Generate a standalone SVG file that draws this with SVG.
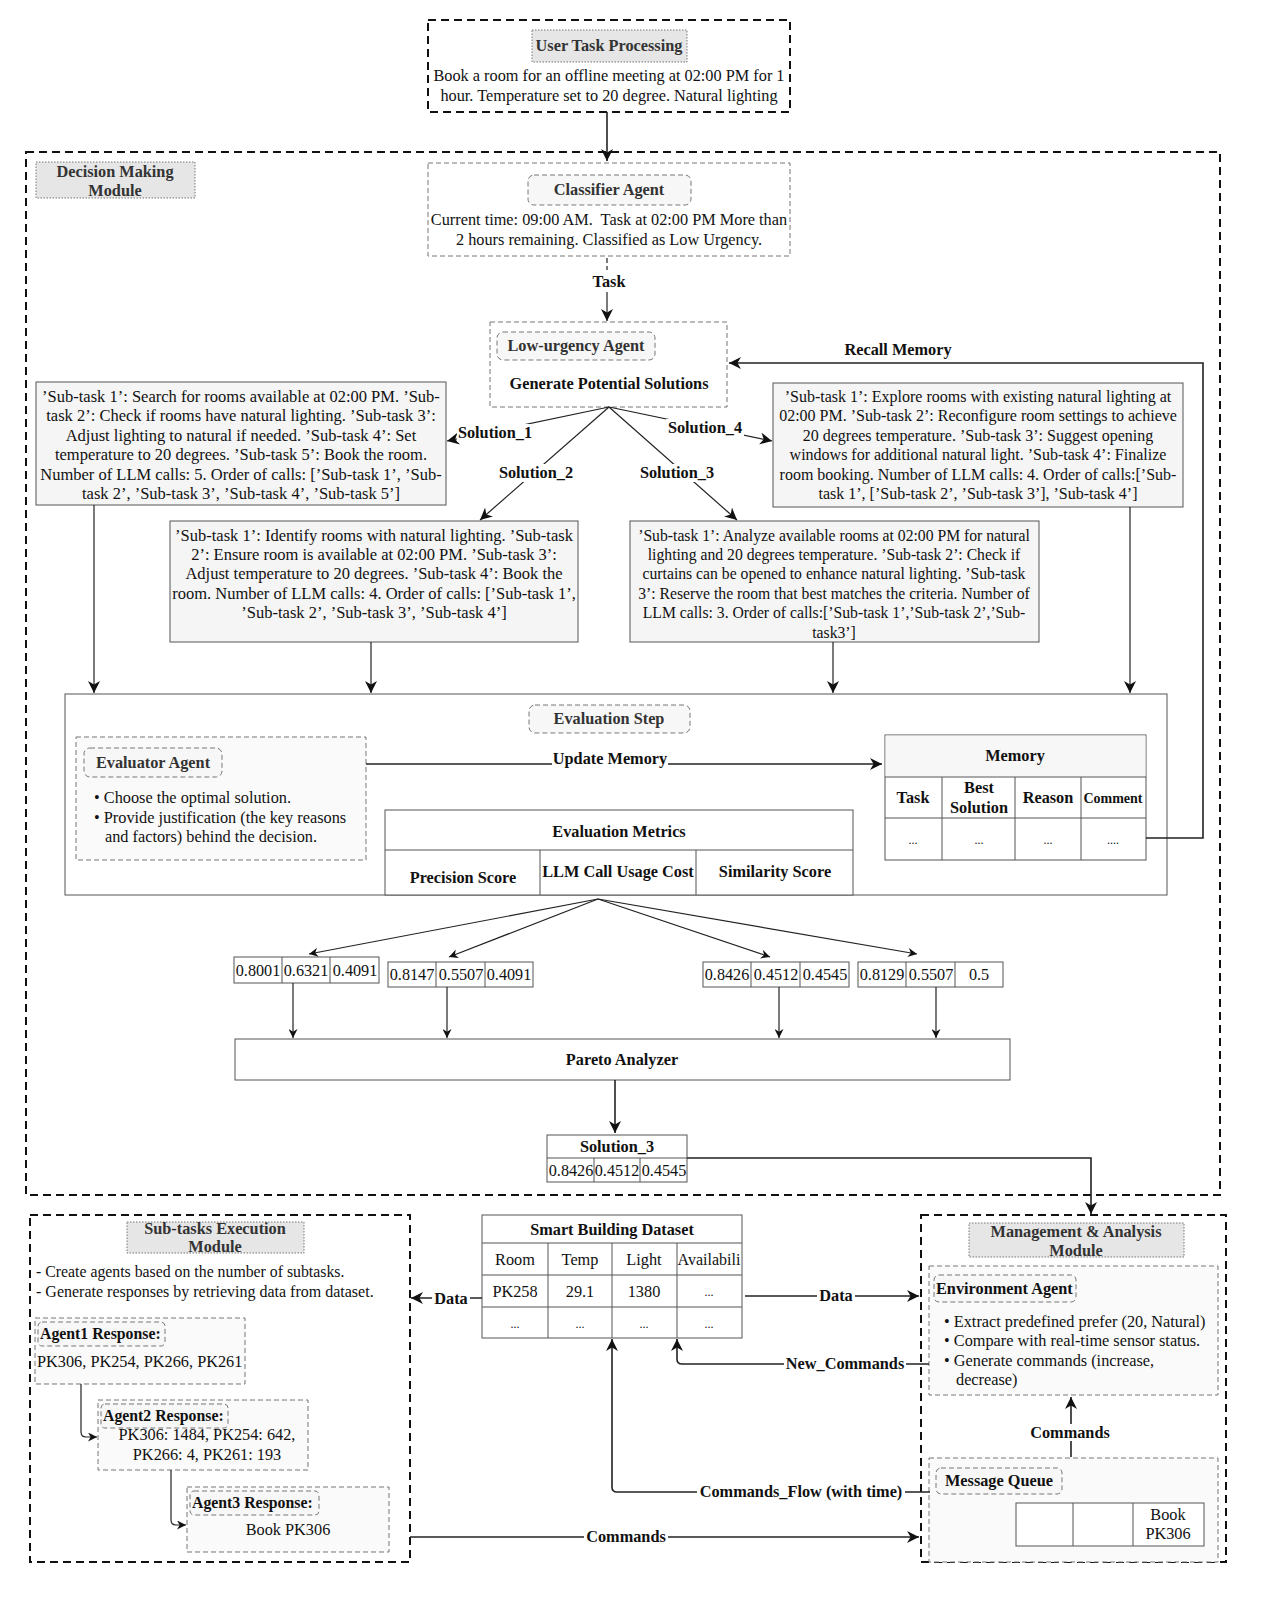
<svg xmlns="http://www.w3.org/2000/svg" width="1271" height="1611" viewBox="0 0 1271 1611">
<defs>
<marker id="ah" viewBox="0 0 10 10" refX="10" refY="5" markerWidth="12" markerHeight="12" markerUnits="userSpaceOnUse" orient="auto">
<path d="M0,0 L10,5 L0,10 L3,5 z" fill="#111"/>
</marker>
<marker id="ahs" viewBox="0 0 10 10" refX="10" refY="5" markerWidth="9" markerHeight="9" markerUnits="userSpaceOnUse" orient="auto">
<path d="M0,0 L10,5 L0,10 L3,5 z" fill="#111"/>
</marker>
<style>
text{font-family:"Liberation Serif","Times New Roman",serif;fill:#111;font-size:16.3px}
.c{text-anchor:middle}
.b{font-weight:bold}
.t{font-weight:bold;fill:#333;text-anchor:middle;font-size:16.3px}
.s1{font-size:16.5px}
.s3{font-size:15.7px}
.s4{font-size:16px}
.num{font-size:16.2px}
.mod{fill:none;stroke:#111;stroke-width:2;stroke-dasharray:8,5}
.thin{fill:#fff;stroke:#777;stroke-width:1;stroke-dasharray:5,3}
.panel{fill:#fafafa;stroke:#777;stroke-width:1;stroke-dasharray:5,3}
.lbl{fill:#f7f7f7;stroke:#777;stroke-width:1;stroke-dasharray:5,3}
.gt{fill:#e6e6e6;stroke:#777;stroke-width:1;stroke-dasharray:1.5,1.5}
.sol{fill:#f5f5f5;stroke:#555;stroke-width:1}
.box{fill:#fff;stroke:#555;stroke-width:1}
.cell{fill:none;stroke:#555;stroke-width:1}
.ln{fill:none;stroke:#222;stroke-width:1.6}
.lnt{fill:none;stroke:#222;stroke-width:1.2}
.bg{fill:#fff}
</style>
</defs>
<rect width="1271" height="1611" fill="#fff"/>

<g id="user-task">
<rect class="mod" x="428" y="20" width="362" height="92"/>
<rect class="gt" x="532" y="30" width="155" height="32"/>
<text class="t" x="609" y="51">User Task Processing</text>
<text class="c" x="609" y="81">Book a room for an offline meeting at 02:00 PM for 1</text>
<text class="c" x="609" y="101">hour. Temperature set to 20 degree. Natural lighting</text>
</g>

<g id="decision-module">
<rect class="mod" x="26" y="152" width="1194" height="1043"/>
<rect class="gt" x="36" y="162" width="159" height="36"/>
<text class="t" x="115" y="177">Decision Making</text>
<text class="t" x="115" y="196">Module</text>
</g>

<g id="classifier-agent">
<rect class="thin" x="428" y="163" width="362" height="93"/>
<rect class="lbl" x="528" y="175" width="163" height="30" rx="6"/>
<text class="t" x="609" y="195">Classifier Agent</text>
<text class="c" x="609" y="225">Current time: 09:00 AM.&#160; Task at 02:00 PM More than</text>
<text class="c" x="609" y="245">2 hours remaining. Classified as Low Urgency.</text>
</g>

<g id="low-urgency-agent">
<rect class="thin" x="490" y="322" width="237" height="85"/>
<rect class="lbl" x="497" y="332" width="158" height="28" rx="6"/>
<text class="t" x="576" y="351">Low-urgency Agent</text>
<text class="c b" x="609" y="389">Generate Potential Solutions</text>
</g>

<g id="solution-1">
<rect class="sol" x="36" y="382" width="410" height="123"/>
<text class="c s1" x="241" y="402">’Sub-task 1’: Search for rooms available at 02:00 PM. ’Sub-</text>
<text class="c s1" x="241" y="421">task 2’: Check if rooms have natural lighting. ’Sub-task 3’:</text>
<text class="c s1" x="241" y="441">Adjust lighting to natural if needed. ’Sub-task 4’: Set</text>
<text class="c s1" x="241" y="460">temperature to 20 degrees. ’Sub-task 5’: Book the room.</text>
<text class="c s1" x="241" y="480">Number of LLM calls: 5. Order of calls: [’Sub-task 1’, ’Sub-</text>
<text class="c s1" x="241" y="499">task 2’, ’Sub-task 3’, ’Sub-task 4’, ’Sub-task 5’]</text>
</g>

<g id="solution-4">
<rect class="sol" x="773" y="383" width="410" height="124"/>
<text class="c s4" x="978" y="402">’Sub-task 1’: Explore rooms with existing natural lighting at</text>
<text class="c s4" x="978" y="421">02:00 PM. ’Sub-task 2’: Reconfigure room settings to achieve</text>
<text class="c s4" x="978" y="441">20 degrees temperature. ’Sub-task 3’: Suggest opening</text>
<text class="c s4" x="978" y="460">windows for additional natural light. ’Sub-task 4’: Finalize</text>
<text class="c s4" x="978" y="480">room booking. Number of LLM calls: 4. Order of calls:[’Sub-</text>
<text class="c s4" x="978" y="499">task 1’, [’Sub-task 2’, ’Sub-task 3’], ’Sub-task 4’]</text>
</g>

<g id="solution-2">
<rect class="sol" x="170" y="521" width="408" height="121"/>
<text class="c s1" x="374" y="541">’Sub-task 1’: Identify rooms with natural lighting. ’Sub-task</text>
<text class="c s1" x="374" y="560">2’: Ensure room is available at 02:00 PM. ’Sub-task 3’:</text>
<text class="c s1" x="374" y="579">Adjust temperature to 20 degrees. ’Sub-task 4’: Book the</text>
<text class="c s1" x="374" y="599">room. Number of LLM calls: 4. Order of calls: [’Sub-task 1’,</text>
<text class="c s1" x="374" y="618">’Sub-task 2’, ’Sub-task 3’, ’Sub-task 4’]</text>
</g>

<g id="solution-3">
<rect class="sol" x="630" y="521" width="409" height="121"/>
<text class="c s3" x="834" y="541">’Sub-task 1’: Analyze available rooms at 02:00 PM for natural</text>
<text class="c s3" x="834" y="560">lighting and 20 degrees temperature. ’Sub-task 2’: Check if</text>
<text class="c s3" x="834" y="579">curtains can be opened to enhance natural lighting. ’Sub-task</text>
<text class="c s3" x="834" y="599">3’: Reserve the room that best matches the criteria. Number of</text>
<text class="c s3" x="834" y="618">LLM calls: 3. Order of calls:[’Sub-task 1’,’Sub-task 2’,’Sub-</text>
<text class="c s3" x="834" y="638">task3’]</text>
</g>

<g id="evaluation-step">
<rect class="box" x="65" y="694" width="1102" height="201"/>
<rect class="lbl" x="529" y="705" width="161" height="28" rx="6"/>
<text class="t" x="609" y="724">Evaluation Step</text>
</g>

<g id="evaluator-agent">
<rect class="panel" x="76" y="737" width="290" height="123"/>
<rect class="lbl" x="84" y="748" width="138" height="29" rx="6"/>
<text class="t" x="153" y="768">Evaluator Agent</text>
<text x="94" y="803">• Choose the optimal solution.</text>
<text x="94" y="823">• Provide justification (the key reasons</text>
<text x="105" y="842">and factors) behind the decision.</text>
</g>

<g id="memory">
<rect class="box" x="885" y="735" width="261" height="125"/>
<rect x="885.5" y="735.5" width="260" height="41" fill="#f7f7f7"/>
<line class="cell" x1="885" y1="777" x2="1146" y2="777"/>
<line class="cell" x1="885" y1="818" x2="1146" y2="818"/>
<line class="cell" x1="942" y1="777" x2="942" y2="860"/>
<line class="cell" x1="1015" y1="777" x2="1015" y2="860"/>
<line class="cell" x1="1081" y1="777" x2="1081" y2="860"/>
<text class="c b" x="1015" y="761" fill="#333">Memory</text>
<text class="c b" x="913" y="803" fill="#333">Task</text>
<text class="c b" x="979" y="793" fill="#333">Best</text>
<text class="c b" x="979" y="813" fill="#333">Solution</text>
<text class="c b" x="1048" y="803" fill="#333">Reason</text>
<text class="c b" x="1113" y="803" fill="#333" style="font-size:14px">Comment</text>
<text class="c" x="913" y="844" style="font-size:12px">...</text>
<text class="c" x="979" y="844" style="font-size:12px">...</text>
<text class="c" x="1048" y="844" style="font-size:12px">...</text>
<text class="c" x="1113" y="844" style="font-size:12px">....</text>
</g>

<g id="evaluation-metrics">
<rect class="box" x="385" y="810" width="468" height="85"/>
<line class="cell" x1="385" y1="850" x2="853" y2="850"/>
<line class="cell" x1="540" y1="850" x2="540" y2="895"/>
<line class="cell" x1="696" y1="850" x2="696" y2="895"/>
<text class="c b" x="619" y="837">Evaluation Metrics</text>
<text class="c b" x="463" y="883">Precision Score</text>
<text class="c b" x="618" y="877">LLM Call Usage Cost</text>
<text class="c b" x="775" y="877">Similarity Score</text>
</g>

<g id="scores-1">
<rect class="box" x="234" y="957" width="145" height="26"/>
<line class="cell" x1="282" y1="957" x2="282" y2="983"/>
<line class="cell" x1="330" y1="957" x2="330" y2="983"/>
<text class="c num" x="258" y="976">0.8001</text>
<text class="c num" x="306" y="976">0.6321</text>
<text class="c num" x="355" y="976">0.4091</text>
</g>
<g id="scores-2">
<rect class="box" x="388" y="962" width="145" height="25"/>
<line class="cell" x1="436" y1="962" x2="436" y2="987"/>
<line class="cell" x1="485" y1="962" x2="485" y2="987"/>
<text class="c num" x="412" y="980">0.8147</text>
<text class="c num" x="461" y="980">0.5507</text>
<text class="c num" x="509" y="980">0.4091</text>
</g>
<g id="scores-3">
<rect class="box" x="703" y="962" width="146" height="25"/>
<line class="cell" x1="751" y1="962" x2="751" y2="987"/>
<line class="cell" x1="800" y1="962" x2="800" y2="987"/>
<text class="c num" x="727" y="980">0.8426</text>
<text class="c num" x="776" y="980">0.4512</text>
<text class="c num" x="825" y="980">0.4545</text>
</g>
<g id="scores-4">
<rect class="box" x="858" y="962" width="145" height="25"/>
<line class="cell" x1="906" y1="962" x2="906" y2="987"/>
<line class="cell" x1="955" y1="962" x2="955" y2="987"/>
<text class="c num" x="882" y="980">0.8129</text>
<text class="c num" x="931" y="980">0.5507</text>
<text class="c num" x="979" y="980">0.5</text>
</g>

<g id="pareto-analyzer">
<rect class="box" x="235" y="1039" width="775" height="41"/>
<text class="c b" x="622" y="1065">Pareto Analyzer</text>
</g>

<g id="selected-solution">
<rect class="box" x="547" y="1135" width="140" height="47"/>
<line class="cell" x1="547" y1="1158" x2="687" y2="1158"/>
<line class="cell" x1="594" y1="1158" x2="594" y2="1182"/>
<line class="cell" x1="640" y1="1158" x2="640" y2="1182"/>
<text class="c b" x="617" y="1152">Solution_3</text>
<text class="c num" x="571" y="1176">0.8426</text>
<text class="c num" x="617" y="1176">0.4512</text>
<text class="c num" x="664" y="1176">0.4545</text>
</g>

<g id="subtasks-module">
<rect class="mod" x="30" y="1215" width="380" height="347"/>
<rect class="gt" x="127" y="1222" width="177" height="31"/>
<text class="t" x="215" y="1234">Sub-tasks Execution</text>
<text class="t" x="215" y="1252">Module</text>
<text x="36" y="1277" style="font-size:15.8px">- Create agents based on the number of subtasks.</text>
<text x="36" y="1297" style="font-size:16px">- Generate responses by retrieving data from dataset.</text>
</g>

<g id="agent1">
<rect class="panel" x="35" y="1318" width="210" height="66"/>
<rect class="lbl" x="38" y="1322" width="127" height="24" rx="4"/>
<text class="b" x="40" y="1339" fill="#333" style="font-size:15.8px">Agent1 Response:</text>
<text x="37" y="1367">PK306, PK254, PK266, PK261</text>
</g>

<g id="agent2">
<rect class="panel" x="98" y="1400" width="210" height="70"/>
<rect class="lbl" x="101" y="1404" width="127" height="24" rx="4"/>
<text class="b" x="103" y="1421" fill="#333" style="font-size:15.8px">Agent2 Response:</text>
<text class="c" x="207" y="1440">PK306: 1484, PK254: 642,</text>
<text class="c" x="207" y="1460">PK266: 4, PK261: 193</text>
</g>

<g id="agent3">
<rect class="panel" x="187" y="1487" width="202" height="65"/>
<rect class="lbl" x="190" y="1491" width="129" height="24" rx="4"/>
<text class="b" x="192" y="1508" fill="#333" style="font-size:15.8px">Agent3 Response:</text>
<text class="c" x="288" y="1535">Book PK306</text>
</g>

<g id="smart-building-dataset">
<rect class="box" x="482" y="1215" width="260" height="123"/>
<line class="cell" x1="482" y1="1243" x2="742" y2="1243"/>
<line class="cell" x1="482" y1="1275" x2="742" y2="1275"/>
<line class="cell" x1="482" y1="1307" x2="742" y2="1307"/>
<line class="cell" x1="548" y1="1243" x2="548" y2="1338"/>
<line class="cell" x1="612" y1="1243" x2="612" y2="1338"/>
<line class="cell" x1="677" y1="1243" x2="677" y2="1338"/>
<text class="c b" x="612" y="1235">Smart Building Dataset</text>
<text class="c" x="515" y="1265">Room</text>
<text class="c" x="580" y="1265">Temp</text>
<text class="c" x="644" y="1265">Light</text>
<text class="c" x="709" y="1265" style="font-size:16px">Availabili</text>
<text class="c" x="515" y="1297">PK258</text>
<text class="c" x="580" y="1297">29.1</text>
<text class="c" x="644" y="1297">1380</text>
<text class="c" x="709" y="1296" style="font-size:12px">...</text>
<text class="c" x="515" y="1328" style="font-size:12px">...</text>
<text class="c" x="580" y="1328" style="font-size:12px">...</text>
<text class="c" x="644" y="1328" style="font-size:12px">...</text>
<text class="c" x="709" y="1328" style="font-size:12px">...</text>
</g>

<g id="management-module">
<rect class="mod" x="921" y="1215" width="305" height="347"/>
<rect class="gt" x="969" y="1223" width="215" height="34"/>
<text class="t" x="1076" y="1237">Management &amp; Analysis</text>
<text class="t" x="1076" y="1256">Module</text>
</g>

<g id="environment-agent">
<rect class="panel" x="929" y="1266" width="289" height="129"/>
<rect class="lbl" x="934" y="1275" width="142" height="27" rx="5"/>
<text class="b" x="936" y="1294" fill="#333">Environment Agent</text>
<text x="944" y="1327">• Extract predefined prefer (20, Natural)</text>
<text x="944" y="1346">• Compare with real-time sensor status.</text>
<text x="944" y="1366">• Generate commands (increase,</text>
<text x="956" y="1385">decrease)</text>
</g>

<g id="message-queue">
<rect class="panel" x="929" y="1458" width="289" height="104"/>
<rect class="lbl" x="936" y="1468" width="126" height="26" rx="5"/>
<text class="b" x="999" y="1486" fill="#333" text-anchor="middle">Message Queue</text>
<rect class="box" x="1016" y="1503" width="188" height="43"/>
<line class="cell" x1="1073" y1="1503" x2="1073" y2="1546"/>
<line class="cell" x1="1133" y1="1503" x2="1133" y2="1546"/>
<text class="c" x="1168" y="1520">Book</text>
<text class="c" x="1168" y="1539">PK306</text>
</g>

<g id="connectors">
<line class="ln" x1="607" y1="112" x2="607" y2="161" marker-end="url(#ah)"/>
<line class="lnt" x1="607" y1="258" x2="607" y2="270" stroke-dasharray="5,3"/>
<line class="lnt" x1="607" y1="292" x2="607" y2="321" marker-end="url(#ah)"/>
<text class="c b" x="609" y="287">Task</text>

<line class="lnt" x1="609" y1="407" x2="447" y2="441" marker-end="url(#ah)"/>
<line class="lnt" x1="609" y1="407" x2="480" y2="520" marker-end="url(#ah)"/>
<line class="lnt" x1="609" y1="407" x2="737" y2="520" marker-end="url(#ah)"/>
<line class="lnt" x1="609" y1="407" x2="772" y2="441" marker-end="url(#ah)"/>
<rect class="bg" x="457" y="424" width="77" height="18"/>
<text class="c b" x="495" y="438">Solution_1</text>
<rect class="bg" x="497" y="464" width="78" height="18"/>
<text class="c b" x="536" y="478">Solution_2</text>
<rect class="bg" x="638" y="464" width="78" height="18"/>
<text class="c b" x="677" y="478">Solution_3</text>
<rect class="bg" x="666" y="419" width="78" height="18"/>
<text class="c b" x="705" y="433">Solution_4</text>

<polyline class="ln" points="1146,838 1203,838 1203,363 729,363" marker-end="url(#ah)"/>
<text class="c b" x="898" y="355">Recall Memory</text>

<line class="lnt" x1="94" y1="505" x2="94" y2="693" marker-end="url(#ah)"/>
<line class="lnt" x1="371" y1="642" x2="371" y2="693" marker-end="url(#ah)"/>
<line class="lnt" x1="833" y1="642" x2="833" y2="693" marker-end="url(#ah)"/>
<line class="lnt" x1="1130" y1="507" x2="1130" y2="693" marker-end="url(#ah)"/>

<line class="ln" x1="366" y1="764" x2="882" y2="764" marker-end="url(#ah)"/>
<rect class="bg" x="552" y="750" width="116" height="18"/>
<text class="c b" x="610" y="764">Update Memory</text>

<line class="lnt" x1="598" y1="899" x2="309" y2="954" marker-end="url(#ahs)"/>
<line class="lnt" x1="598" y1="899" x2="449" y2="957" marker-end="url(#ahs)"/>
<line class="lnt" x1="598" y1="899" x2="770" y2="957" marker-end="url(#ahs)"/>
<line class="lnt" x1="598" y1="899" x2="917" y2="954" marker-end="url(#ahs)"/>

<line class="lnt" x1="293" y1="983" x2="293" y2="1038" marker-end="url(#ahs)"/>
<line class="lnt" x1="447" y1="987" x2="447" y2="1038" marker-end="url(#ahs)"/>
<line class="lnt" x1="779" y1="987" x2="779" y2="1038" marker-end="url(#ahs)"/>
<line class="lnt" x1="936" y1="987" x2="936" y2="1038" marker-end="url(#ahs)"/>

<line class="ln" x1="615" y1="1080" x2="615" y2="1133" marker-end="url(#ah)"/>
<polyline class="ln" points="687,1158 1091,1158 1091,1214" marker-end="url(#ah)"/>

<path class="lnt" d="M81,1384 V1432 Q81,1437 86,1437 H97" marker-end="url(#ahs)"/>
<path class="lnt" d="M171,1470 V1520 Q171,1525 176,1525 H186" marker-end="url(#ahs)"/>

<line class="ln" x1="482" y1="1298" x2="411" y2="1298" marker-end="url(#ah)"/>
<rect class="bg" x="432" y="1290" width="38" height="17"/>
<text class="c b" x="451" y="1304">Data</text>

<line class="ln" x1="745" y1="1296" x2="919" y2="1296" marker-end="url(#ah)"/>
<rect class="bg" x="817" y="1288" width="38" height="17"/>
<text class="c b" x="836" y="1301">Data</text>

<path class="ln" d="M929,1364 H682 Q677,1364 677,1359 V1339" marker-end="url(#ah)"/>
<rect class="bg" x="784" y="1355" width="122" height="17"/>
<text class="c b" x="845" y="1369">New_Commands</text>

<path class="ln" d="M930,1492 H617 Q612,1492 612,1487 V1339" marker-end="url(#ah)"/>
<rect class="bg" x="697" y="1483" width="208" height="17"/>
<text class="c b" x="801" y="1497">Commands_Flow (with time)</text>

<line class="ln" x1="410" y1="1537" x2="919" y2="1537" marker-end="url(#ah)"/>
<rect class="bg" x="584" y="1528" width="84" height="17"/>
<text class="c b" x="626" y="1542">Commands</text>

<line class="ln" x1="1071" y1="1457" x2="1071" y2="1397" marker-end="url(#ah)"/>
<rect class="bg" x="1026" y="1424" width="88" height="17"/>
<text class="c b" x="1070" y="1438">Commands</text>
</g>
</svg>
